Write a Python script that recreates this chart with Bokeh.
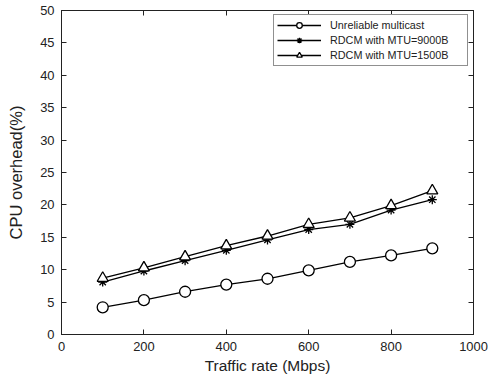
from bokeh.plotting import figure
from bokeh.models import LinearAxis, Legend, LegendItem, FixedTicker, Range1d, CustomJSTickFormatter
from bokeh.embed import file_html
from bokeh.resources import INLINE

rates = [100, 200, 300, 400, 500, 600, 700, 800, 900]
unreliable = [4.2, 5.3, 6.6, 7.7, 8.6, 9.9, 11.2, 12.2, 13.3]
rdcm_9000 = [8.1, 9.8, 11.4, 13.0, 14.6, 16.2, 17.0, 19.2, 20.8]
rdcm_1500 = [8.7, 10.3, 12.0, 13.7, 15.2, 17.0, 18.0, 19.9, 22.2]
x_ticks = [0, 200, 400, 600, 800, 1000]
y_ticks = [0, 5, 10, 15, 20, 25, 30, 35, 40, 45, 50]
labels = ["Unreliable multicast", "RDCM with MTU=9000B", "RDCM with MTU=1500B"]

FONT = "Liberation Sans"
INK = "#222222"

p = figure(width=488, height=379, output_backend="svg", toolbar_location=None,
           x_range=Range1d(0, 1000), y_range=Range1d(0, 50),
           min_border_left=61, min_border_right=15, min_border_top=10, min_border_bottom=45,
           x_axis_label="Traffic rate (Mbps)", y_axis_label="CPU overhead(%)")
p.grid.visible = False
p.outline_line_color = INK
p.outline_line_width = 1

for ax, ticks in ((p.xaxis[0], x_ticks), (p.yaxis[0], y_ticks)):
    ax.ticker = FixedTicker(ticks=ticks)
    ax.major_tick_in = 5
    ax.major_tick_out = 0
    ax.minor_tick_line_color = None
    ax.axis_line_color = INK
    ax.major_tick_line_color = INK
    ax.major_label_text_font = FONT
    ax.major_label_text_font_size = "12.9px"
    ax.major_label_text_color = INK
    ax.axis_label_text_font = FONT
    ax.axis_label_text_font_style = "normal"
    ax.axis_label_text_color = INK
p.xaxis[0].axis_label_text_font_size = "15.5px"
p.yaxis[0].axis_label_text_font_size = "16.5px"
p.xaxis[0].major_label_standoff = 7
p.xaxis[0].axis_label_standoff = 3
p.yaxis[0].major_label_standoff = 7
p.yaxis[0].axis_label_standoff = 12

blank = CustomJSTickFormatter(code="return ''")
top_ax = LinearAxis(ticker=FixedTicker(ticks=x_ticks), formatter=blank, major_tick_in=5, major_tick_out=0,
                    minor_tick_line_color=None, major_label_standoff=0,
                    axis_line_color=INK, major_tick_line_color=INK)
right_ax = LinearAxis(ticker=FixedTicker(ticks=y_ticks), formatter=blank, major_tick_in=5, major_tick_out=0,
                      minor_tick_line_color=None, major_label_standoff=0,
                      axis_line_color=INK, major_tick_line_color=INK)
p.add_layout(top_ax, "above")
p.add_layout(right_ax, "right")

items = []
series = [(unreliable, "circle", 11), (rdcm_9000, "asterisk", 9), (rdcm_1500, "triangle", 11)]
for (vals, mk, sz), lab in zip(series, labels):
    ln = p.line(rates, vals, line_color="black", line_width=1.3)
    sc = p.scatter(rates, vals, marker=mk, size=sz,
                   fill_color="white" if mk != "asterisk" else None,
                   line_color="black", line_width=1.3)
    items.append(LegendItem(label=lab, renderers=[ln, sc]))

legend = Legend(items=items, location=(212, 268), padding=3, spacing=1,
                glyph_width=44, glyph_height=14, label_height=14, label_width=134, label_standoff=9,
                label_text_font=FONT, label_text_font_size="10.8px", label_text_color=INK,
                border_line_color=INK, border_line_width=1, margin=0,
                background_fill_alpha=1)
p.add_layout(legend, "center")

open("out.html", "w").write(file_html(p, INLINE))
